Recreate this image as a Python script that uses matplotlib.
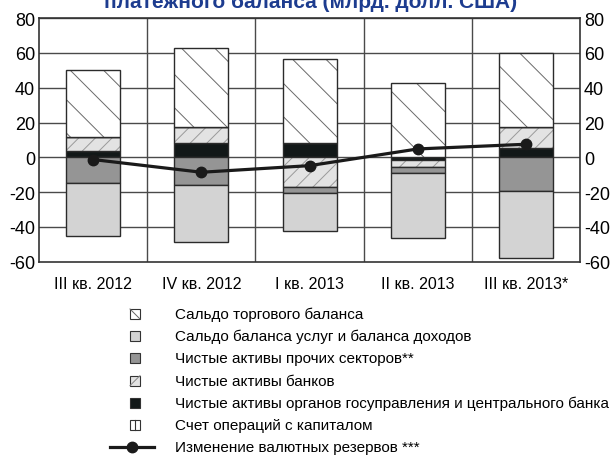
import numpy as np
import matplotlib.pyplot as plt
from matplotlib.patches import Rectangle
from matplotlib.lines import Line2D

plt.rcParams['font.family'] = ['Liberation Sans', 'DejaVu Sans']
plt.rcParams['axes.unicode_minus'] = False
plt.rcParams['hatch.linewidth'] = 0.7

quarters = ['III кв. 2012', 'IV кв. 2012', 'I кв. 2013', 'II кв. 2013', 'III кв. 2013*']

# components of the balance, bn USD
gov_cb = [3.6, 8.2, 8.0, -1.3, 5.2]
banks = [7.9, 9.4, -17.2, -4.4, 12.0]
other_sectors = [-15.0, -15.7, -3.5, -3.3, -19.5]
services_income = [-30.4, -32.8, -21.8, -37.6, -38.5]
trade = [38.6, 45.0, 48.3, 42.5, 42.9]
capital = [0.0, 0.0, 0.0, 0.0, 0.0]
reserves = [-1.3, -8.6, -4.8, 4.8, 7.5]

labels = ['Сальдо торгового баланса',
          'Сальдо баланса услуг и баланса доходов',
          'Чистые активы прочих секторов**',
          'Чистые активы банков',
          'Чистые активы органов госуправления и центрального банка',
          'Счет операций с капиталом',
          'Изменение валютных резервов ***']

edge = '#2b2b2b'
# (values, face, hatch, hatch colour) in stacking order
series = [
    (gov_cb, '#121818', '', None),
    (banks, '#e3e3e3', '//', '#9a9a9a'),
    (capital, '#ffffff', '|', '#555555'),
    (other_sectors, '#959595', '', None),
    (services_income, '#d3d3d3', '', None),
    (trade, '#ffffff', '\\', '#6a6a6a'),
]

fig = plt.figure(figsize=(6.13, 4.56), dpi=100)
ax = fig.add_axes([0.064, 0.424, 0.882, 0.534])

x = np.arange(len(quarters))
w = 0.5
pos_base = np.zeros(len(x))
neg_base = np.zeros(len(x))
for vals, face, hatch, hcol in series:
    v = np.array(vals)
    bottom = np.where(v >= 0, pos_base, neg_base)
    if hatch:
        ax.bar(x, v, w, bottom=bottom, color=face, hatch=hatch,
               edgecolor=hcol, linewidth=0, zorder=2)
        ax.bar(x, v, w, bottom=bottom, fill=False, edgecolor=edge,
               linewidth=1, zorder=2)
    else:
        ax.bar(x, v, w, bottom=bottom, color=face, edgecolor=edge,
               linewidth=1, zorder=2)
    pos_base = pos_base + np.where(v >= 0, v, 0)
    neg_base = neg_base + np.where(v < 0, v, 0)

ax.plot(x, reserves, color='#1a1a1a', lw=2.3, marker='o', ms=7.5, zorder=4)

ax.set_xlim(-0.5, 4.5)
ax.set_ylim(-60, 80)
ax.set_yticks(np.arange(-60, 81, 20))
for yv in np.arange(-40, 81, 20):
    ax.axhline(yv, color='#4a4a4a', lw=1, zorder=1)
for xv in np.arange(0.5, 4.5, 1):
    ax.axvline(xv, color='#4a4a4a', lw=1, zorder=1)
for s in ax.spines.values():
    s.set_color('#333333')
    s.set_linewidth(1.2)

ax.set_xticks(x)
ax.set_xticklabels(quarters, fontsize=11.5)
ax.tick_params(axis='x', length=0, pad=10)
ax.tick_params(axis='y', length=0, pad=3, labelsize=13, right=True, labelright=True)

# title is cut by the top edge in the original too
fig.text(0.506, 0.9825, 'платежного баланса (млрд. долл. США)', ha='center', va='baseline',
         color='#1d3c8f', fontsize=15, fontweight='bold')

# legend drawn by hand
legend_faces = ['#ffffff', '#d3d3d3', '#959595', '#e3e3e3', '#121818', '#ffffff']
W, H = 613.0, 456.0
s = 10
row_y = [315 + 22.2 * i for i in range(len(labels))]
for i, lab in enumerate(labels):
    yc = 1 - row_y[i] / H
    x0, y0 = 135 / W - s / 2 / W, yc - s / 2 / H
    x1, y1 = x0 + s / W, y0 + s / H
    if i < len(legend_faces):
        r = Rectangle((x0, y0), s / W, s / H, transform=fig.transFigure,
                      facecolor=legend_faces[i], edgecolor='#333333', lw=0.8)
        fig.patches.append(r)
        if i == 0:
            fig.lines.append(Line2D([x0, x1], [y1, y0], transform=fig.transFigure,
                                    color='#666666', lw=0.7))
        if i == 3:
            fig.lines.append(Line2D([x0, x1], [y0, y1], transform=fig.transFigure,
                                    color='#888888', lw=0.7))
        if i == 5:
            fig.lines.append(Line2D([x0 + s / 2 / W] * 2, [y0, y1], transform=fig.transFigure,
                                    color='#333333', lw=0.8))
    else:
        fig.lines.append(Line2D([110 / W, 154 / W], [yc, yc], transform=fig.transFigure,
                                color='#1a1a1a', lw=2.3))
        fig.lines.append(Line2D([132 / W], [yc], transform=fig.transFigure,
                                color='#1a1a1a', marker='o', ms=7.5))
    fig.text(175 / W, yc, lab, ha='left', va='center', fontsize=11)

fig.savefig('out.png', dpi=100)
